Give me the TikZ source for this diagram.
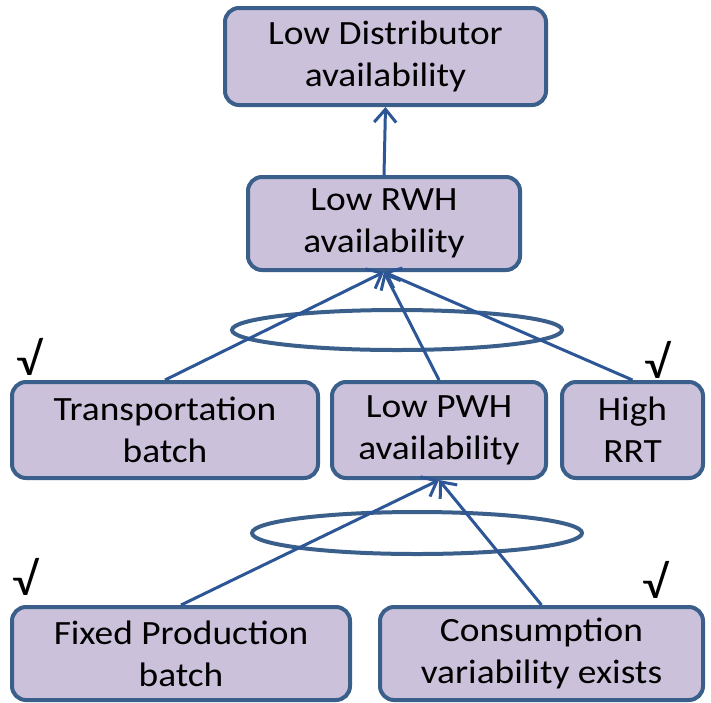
\documentclass[tikz,border=0pt]{standalone}
\usepackage{fontspec}
\setmainfont{Carlito}[FakeStretch=1.1]
\usetikzlibrary{arrows.meta}
\definecolor{boxfill}{HTML}{CCC1DA}
\definecolor{boxline}{HTML}{3A5F8B}
\definecolor{arrline}{HTML}{2C5696}
\tikzset{
  x=1pt,y=-1pt,
  cbox/.style={draw=boxline, fill=boxfill, line width=4pt, rounded corners=14pt,
    align=center, inner sep=0pt, font=\fontsize{34}{42}\selectfont},
  conn/.style={draw=arrline, line width=3pt, -{Straight Barb[length=13pt,width=22pt,line width=3pt]}},
  ring/.style={draw=boxline, line width=4pt},
  tick/.style={font=\fontsize{46}{50}\selectfont, inner sep=0pt}
}
\begin{document}
\begin{tikzpicture}
\useasboundingbox (0,0) rectangle (711,702);
\node[cbox, minimum width=321pt, minimum height=97pt] (top) at (385.5,56.5) {Low Distributor\\availability};
\node[cbox, minimum width=272pt, minimum height=93pt] (rwh) at (384,223.5) {Low RWH\\availability};
\node[cbox, minimum width=306pt, minimum height=96pt] (tr) at (165,430) {Transportation\\batch};
\node[cbox, minimum width=214pt, minimum height=96pt] (pwh) at (439,430) {Low PWH\\availability};
\node[cbox, minimum width=141pt, minimum height=96pt] (rrt) at (632.5,430) {High\\RRT};
\node[cbox, minimum width=338pt, minimum height=93pt] (fix) at (181,653.5) {Fixed Production\\batch};
\node[cbox, minimum width=323pt, minimum height=93pt] (con) at (541.5,653.5) {Consumption\\variability exists};
\draw[ring] (397,330) ellipse [x radius=165, y radius=20];
\draw[ring] (417,533) ellipse [x radius=165, y radius=21];
\draw[conn] (rwh.north) -- (top.south);
\draw[conn] (tr.north) -- (rwh.south);
\draw[conn] (pwh.north) -- (rwh.south);
\draw[conn] (rrt.north) -- (rwh.south);
\draw[conn] (fix.north) -- (pwh.south);
\draw[conn] (con.north) -- (pwh.south);
\node[tick] (t1) at (29,357) {√};
\node[tick] (t2) at (657,360) {√};
\node[tick] (t3) at (25,577) {√};
\node[tick] (t4) at (655,580) {√};
\end{tikzpicture}
\end{document}
